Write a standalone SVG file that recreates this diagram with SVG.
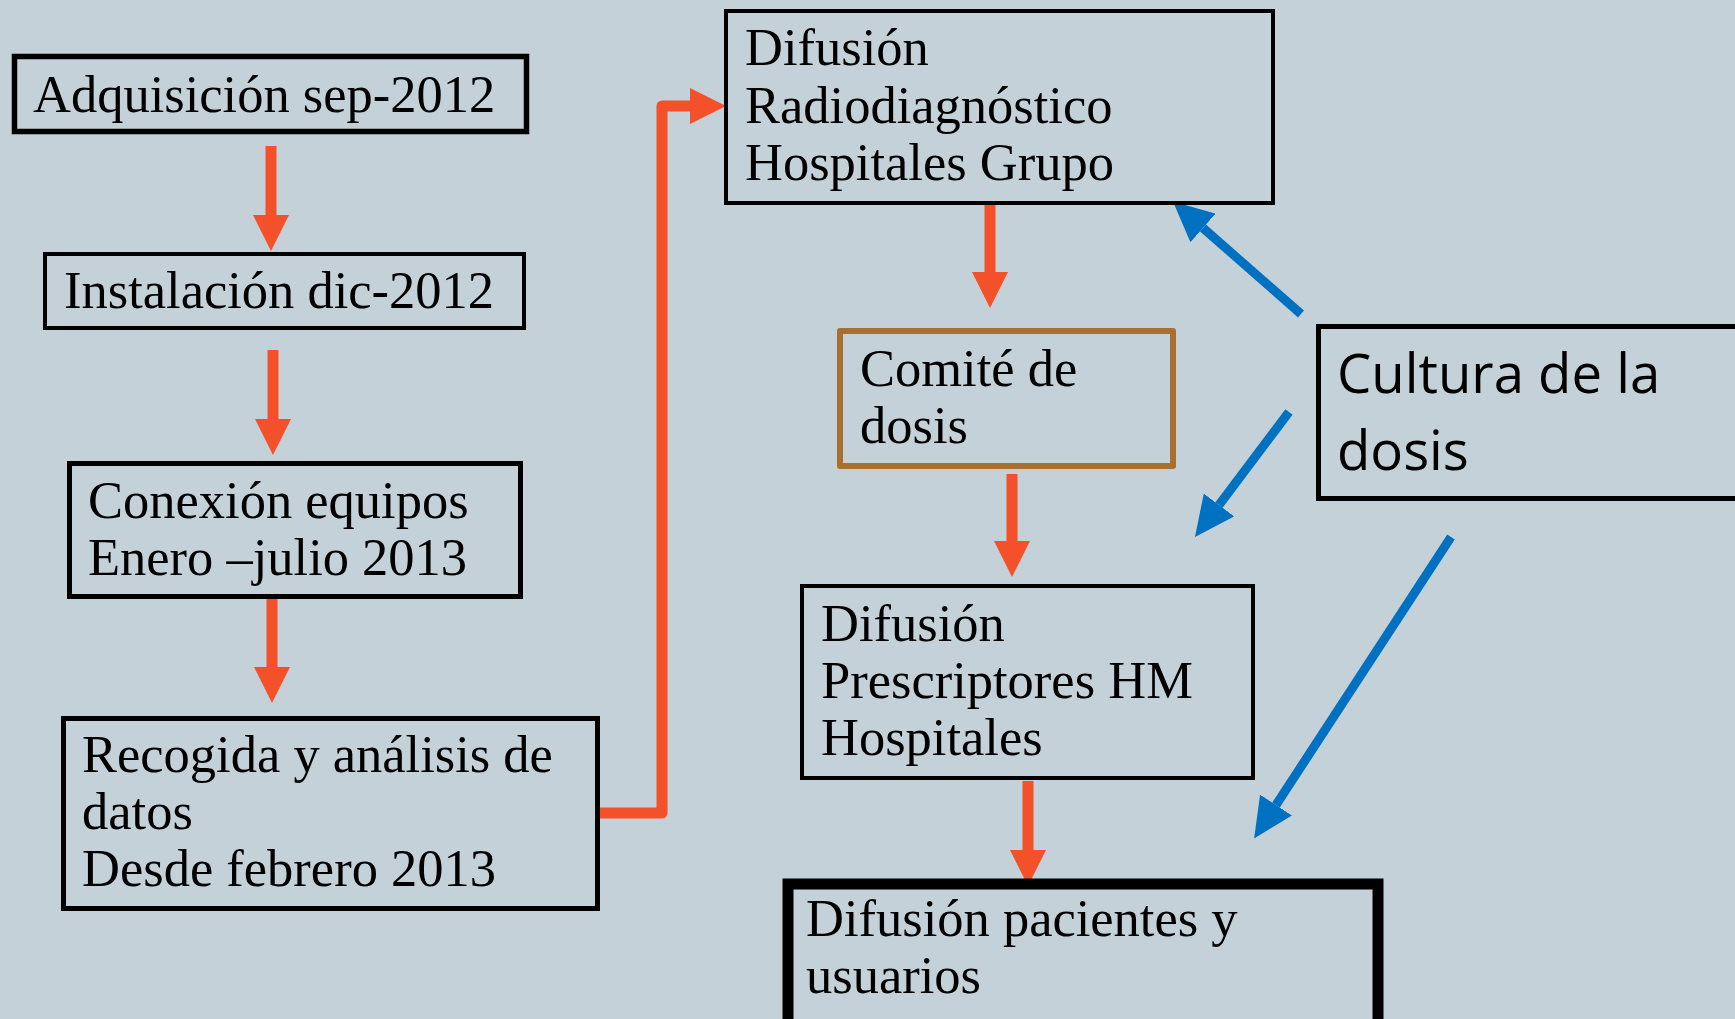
<svg xmlns="http://www.w3.org/2000/svg" width="1735" height="1019" viewBox="0 0 1735 1019">
<style>
.bg{fill:#C5D1D9}
.box{fill:none;stroke:#000}
.t{font-family:"Liberation Serif","Times New Roman",serif;font-size:52.5px;fill:#000}
.ts{font-family:"Open Sans","Noto Sans",sans-serif;font-size:54.5px;fill:#000}
.or{fill:none;stroke:#F4502A;stroke-width:11}
.bl{fill:none;stroke:#0070C0;stroke-width:9}
</style>
<defs>
<marker id="ho" markerUnits="userSpaceOnUse" markerWidth="36" markerHeight="36" refX="0" refY="18" orient="auto"><path d="M0,0 L36,18 L0,36 Z" fill="#F4502A"/></marker>
<marker id="hb" markerUnits="userSpaceOnUse" markerWidth="40" markerHeight="38" refX="0" refY="19" orient="auto"><path d="M0,0 L40,19 L0,38 Z" fill="#0070C0"/></marker>
</defs>
<rect class="bg" x="0" y="0" width="1735" height="1019"/>
<g id="connectors">
<line class="or" x1="271" y1="146" x2="271" y2="215" marker-end="url(#ho)"/>
<line class="or" x1="273" y1="350" x2="273" y2="419" marker-end="url(#ho)"/>
<line class="or" x1="272" y1="598" x2="272" y2="667" marker-end="url(#ho)"/>
<path class="or" d="M600,813 L662,813 L662,106 L690,106" stroke-width="10" stroke-linejoin="round" marker-end="url(#ho)"/>
<line class="or" x1="990" y1="205" x2="990" y2="272" marker-end="url(#ho)"/>
<line class="or" x1="1012" y1="474" x2="1012" y2="541" marker-end="url(#ho)"/>
<line class="or" x1="1028" y1="781" x2="1028" y2="850" marker-end="url(#ho)"/>
<line class="bl" x1="1301" y1="314" x2="1203" y2="228" marker-end="url(#hb)"/>
<line class="bl" x1="1289" y1="412" x2="1219" y2="505" marker-end="url(#hb)"/>
<line class="bl" x1="1451" y1="537" x2="1276" y2="805" marker-end="url(#hb)"/>
</g>
<g id="n1"><rect class="box" x="14.5" y="56.5" width="512" height="75" stroke-width="5.5"/><text class="t" x="33" y="112">Adquisición sep-2012</text></g>
<g id="n2"><rect class="box" x="45" y="254" width="479" height="74" stroke-width="4"/><text class="t" x="64" y="308">Instalación dic-2012</text></g>
<g id="n3"><rect class="box" x="69.5" y="463.5" width="451" height="133" stroke-width="5"/><text class="t" x="88" y="518">Conexión equipos</text><text class="t" x="88" y="575">Enero –julio 2013</text></g>
<g id="n4"><rect class="box" x="63.5" y="718.5" width="534" height="190" stroke-width="5"/><text class="t" x="82" y="772">Recogida y análisis de</text><text class="t" x="82" y="829">datos</text><text class="t" x="82" y="886">Desde febrero 2013</text></g>
<g id="n5"><rect class="box" x="726" y="11" width="547" height="192" stroke-width="4"/><text class="t" x="745" y="65">Difusión</text><text class="t" x="745" y="123">Radiodiagnóstico</text><text class="t" x="745" y="180">Hospitales Grupo</text></g>
<g id="n6"><rect class="box" x="840" y="331" width="333" height="135" stroke-width="6" stroke-linejoin="round" style="stroke:#A86F2F"/><text class="t" x="860" y="386">Comité de</text><text class="t" x="860" y="443">dosis</text></g>
<g id="n7"><rect class="box" x="802" y="586" width="451" height="192" stroke-width="4"/><text class="t" x="821" y="641">Difusión</text><text class="t" x="821" y="698">Prescriptores HM</text><text class="t" x="821" y="755">Hospitales</text></g>
<g id="n8"><rect class="box" x="788" y="884" width="590" height="150" stroke-width="11"/><text class="t" x="806" y="936">Difusión pacientes y</text><text class="t" x="806" y="993">usuarios</text></g>
<g id="n9"><rect class="box" x="1318.5" y="326.5" width="430" height="172" stroke-width="5"/><text class="ts" x="1337" y="393">Cultura de la</text><text class="ts" x="1337" y="470">dosis</text></g>
</svg>
